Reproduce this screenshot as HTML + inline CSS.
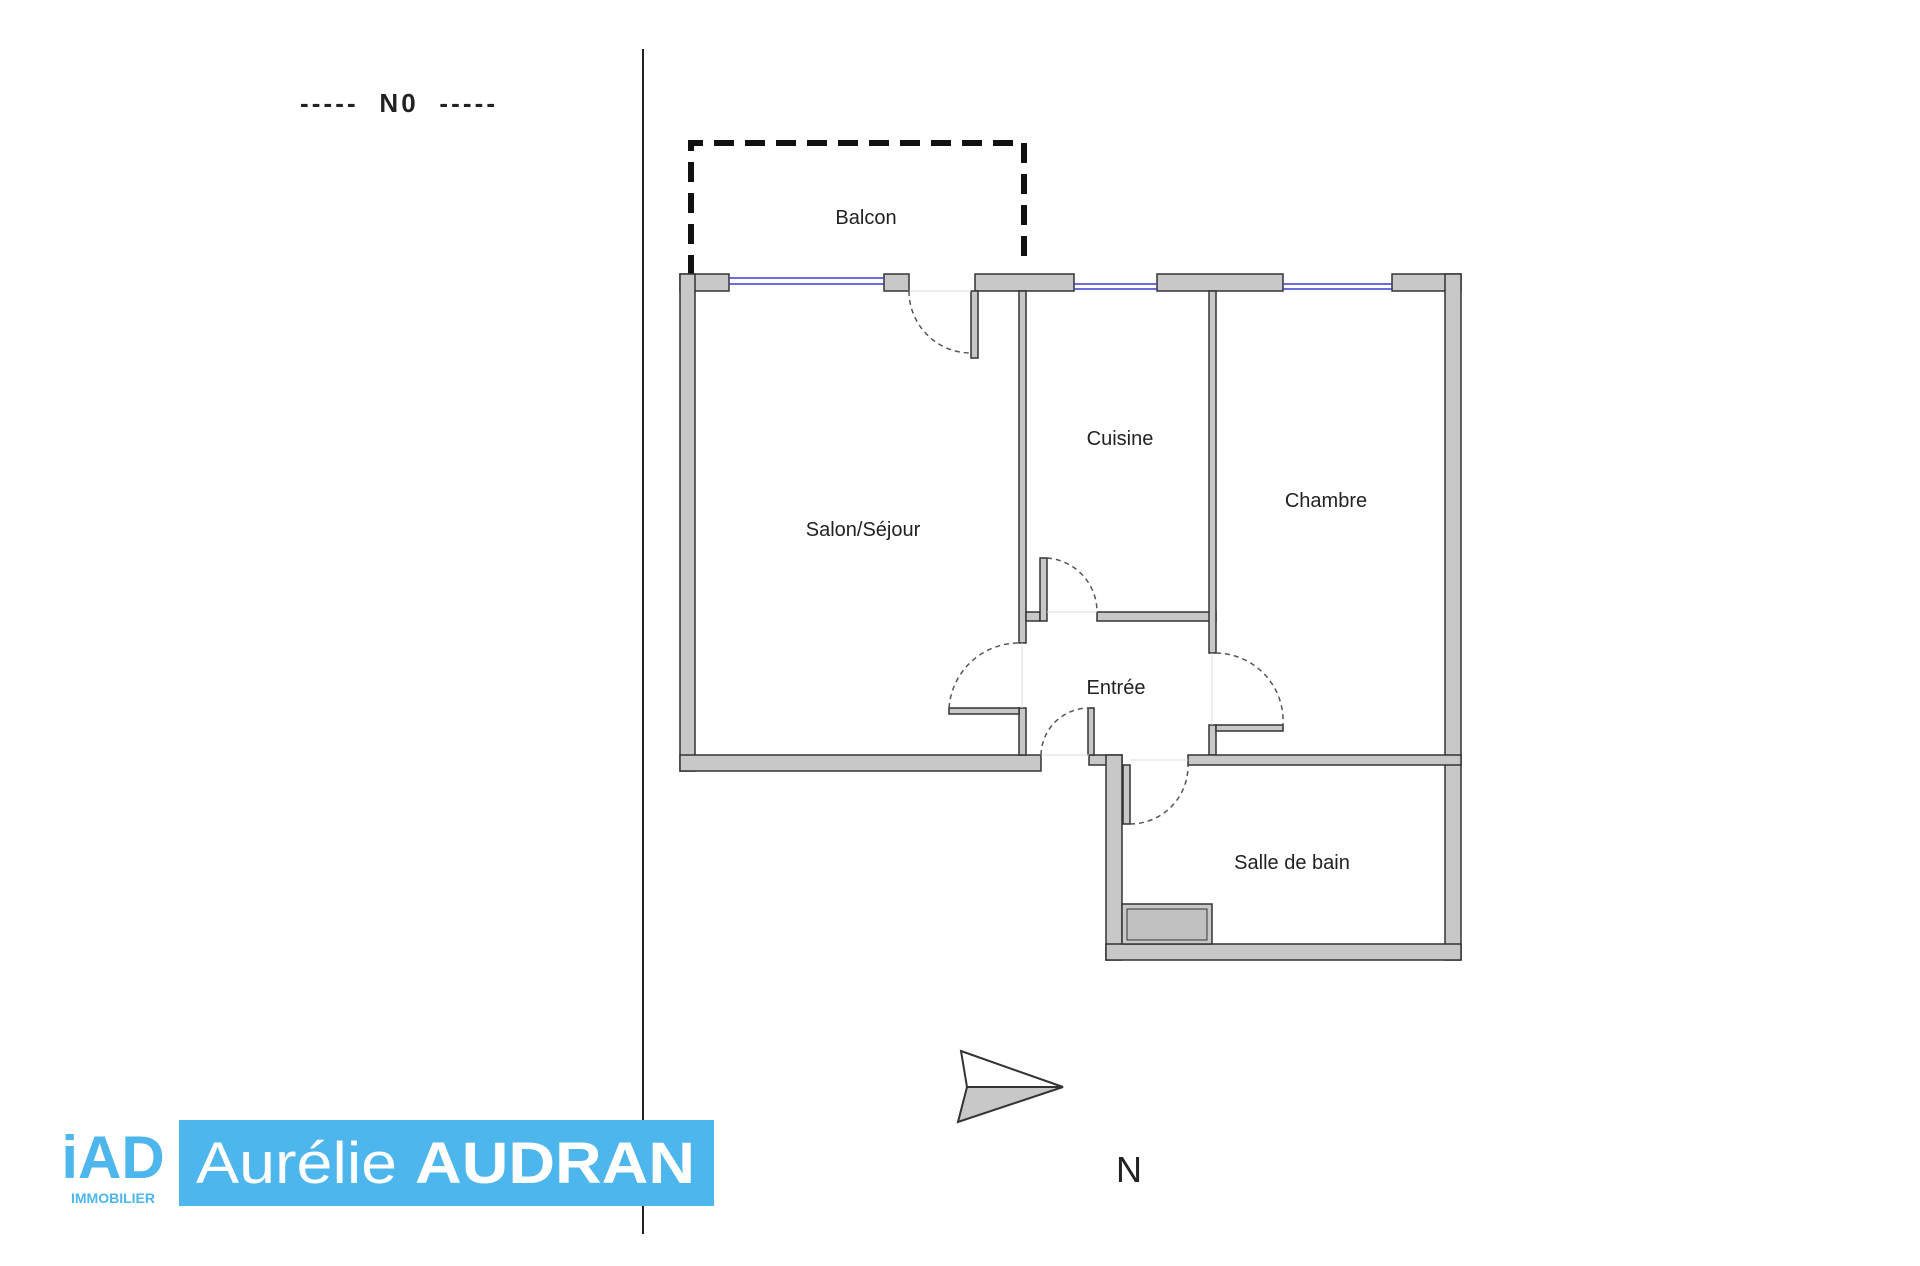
<!DOCTYPE html>
<html><head><meta charset="utf-8"><style>
html,body{margin:0;padding:0;background:#fff;width:1920px;height:1266px;overflow:hidden}
svg{position:absolute;left:0;top:0}
.t{font-family:"Liberation Sans",sans-serif;fill:#222}
</style></head><body>
<svg width="1920" height="1266" viewBox="0 0 1920 1266">
<line x1="643" y1="49" x2="643" y2="1234" stroke="#222" stroke-width="2"/>
<text x="300" y="112" textLength="195" lengthAdjust="spacing" class="t" font-size="26" font-weight="bold">----- &#160;N0 &#160;-----</text>
<!-- balcony -->
<path d="M691 275 V143 H1024 V267" fill="none" stroke="#111" stroke-width="6" stroke-dasharray="20 11"/>
<g fill="#c8c8c8" stroke="#333" stroke-width="1.5">
<rect x="680" y="274" width="49" height="17"/>
<rect x="884" y="274" width="25" height="17"/>
<rect x="975" y="274" width="99" height="17"/>
<rect x="1157" y="274" width="126" height="17"/>
<rect x="1392" y="274" width="69" height="17"/>
<rect x="680" y="274" width="15" height="497"/>
<rect x="680" y="755" width="361" height="16"/>
<rect x="1445" y="274" width="16" height="686"/>
<rect x="1019" y="291" width="7" height="352"/>
<rect x="1019" y="708" width="7" height="47"/>
<rect x="1026" y="612" width="14" height="9"/>
<rect x="1040" y="558" width="7" height="63"/>
<rect x="1097" y="612" width="119" height="9"/>
<rect x="1209" y="291" width="7" height="362"/>
<rect x="1209" y="725" width="7" height="30"/>
<rect x="1188" y="755" width="273" height="10"/>
<rect x="1089" y="755" width="33" height="10"/>
<rect x="1106" y="755" width="16" height="205"/>
<rect x="1106" y="944" width="355" height="16"/>
<rect x="1122" y="904" width="90" height="40"/>
<rect x="971" y="291" width="7" height="67"/>
<rect x="949" y="708" width="70" height="6"/>
<rect x="1088" y="708" width="6" height="47"/>
<rect x="1216" y="725" width="67" height="6"/>
<rect x="1123" y="765" width="7" height="59"/>
</g>
<rect x="1127" y="909" width="80" height="31" fill="#c0c0c0" stroke="#333"/>
<g stroke="#3a3ad0" stroke-width="1.5">
<line x1="729" y1="278" x2="884" y2="278"/><line x1="729" y1="284" x2="884" y2="284"/>
<line x1="1074" y1="284" x2="1157" y2="284"/><line x1="1074" y1="289" x2="1157" y2="289"/>
<line x1="1283" y1="284" x2="1392" y2="284"/><line x1="1283" y1="289" x2="1392" y2="289"/>
</g>
<g stroke="#ddd" stroke-width="1" fill="none">
<line x1="909" y1="291" x2="971" y2="291"/>
<line x1="1047" y1="612" x2="1097" y2="612"/>
<line x1="1022" y1="643" x2="1022" y2="708"/>
<line x1="1212" y1="653" x2="1212" y2="725"/>
<line x1="1041" y1="755" x2="1089" y2="755"/>
<line x1="1130" y1="760" x2="1188" y2="760"/>
</g>
<g stroke="#555" stroke-width="1.5" fill="none" stroke-dasharray="5 4">
<path d="M909 291 A62 62 0 0 0 971 353"/>
<path d="M1047 558 A54 54 0 0 1 1097 612"/>
<path d="M949 708 A70 70 0 0 1 1019 643"/>
<path d="M1041 755 A48 48 0 0 1 1089 708"/>
<path d="M1216 653 A68 68 0 0 1 1283 725"/>
<path d="M1130 824 A58 58 0 0 0 1188 765"/>
</g>
<g class="t" font-size="20" text-anchor="middle">
<text x="866" y="224">Balcon</text>
<text x="1120" y="445">Cuisine</text>
<text x="1326" y="507">Chambre</text>
<text x="863" y="536">Salon/Séjour</text>
<text x="1116" y="694">Entrée</text>
<text x="1292" y="869">Salle de bain</text>
</g>
<polygon points="961,1051 1063,1087 967,1087" fill="#fff" stroke="#333" stroke-width="2"/>
<polygon points="967,1087 1063,1087 958,1122" fill="#c8c8c8" stroke="#333" stroke-width="2"/>
<text x="1129" y="1182" class="t" font-size="36" text-anchor="middle">N</text>
<rect x="179" y="1120" width="535" height="86" fill="#4db6ec"/>
<text x="196" y="1183" textLength="499" lengthAdjust="spacingAndGlyphs" font-family="Liberation Sans,sans-serif" font-size="58" fill="#fff"><tspan>Aurélie </tspan><tspan font-weight="bold">AUDRAN</tspan></text>
<text x="113" y="1178" text-anchor="middle" font-family="Liberation Sans,sans-serif" font-size="60" font-weight="bold" fill="#4db6ec">iAD</text>
<text x="113" y="1203" text-anchor="middle" font-family="Liberation Sans,sans-serif" font-size="14" font-weight="bold" fill="#4db6ec">IMMOBILIER</text>
</svg>
</body></html>
